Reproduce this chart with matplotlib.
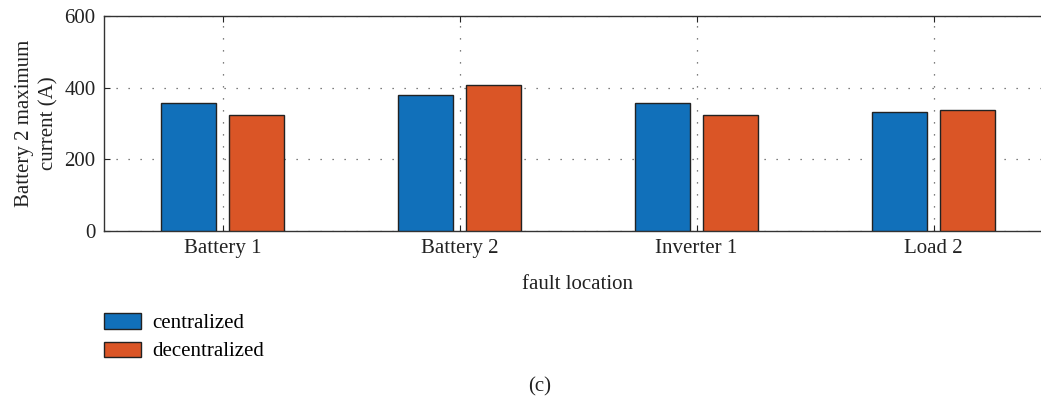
import matplotlib
matplotlib.use("Agg")
import matplotlib.pyplot as plt
import numpy as np

categories = ["Battery 1", "Battery 2", "Inverter 1", "Load 2"]
centralized = [357, 380, 357, 332]
decentralized = [324, 407, 324, 339]
series_names = ["centralized", "decentralized"]
y_ticks = [0, 200, 400, 600]

plt.rcParams["font.family"] = ["Liberation Serif", "DejaVu Serif"]
plt.rcParams["font.size"] = 15

fig = plt.figure(figsize=(10.41, 4.0), dpi=100)
ax = fig.add_axes([104 / 1041, 1 - 231 / 400, 948 / 1041, 215 / 400])

x = np.arange(1, len(categories) + 1)
width = 0.232
offset = 0.143
blue = "#1170BA"
orange = "#DA5526"
edge = "#222222"

b1 = ax.bar(x - offset, centralized, width, color=blue, edgecolor=edge,
            linewidth=1.0, zorder=3, label=series_names[0])
b2 = ax.bar(x + offset, decentralized, width, color=orange, edgecolor=edge,
            linewidth=1.0, zorder=3, label=series_names[1])

ax.set_xlim(0.5, 4.5)
ax.set_ylim(0, 600)
ax.set_xticks(x)
ax.set_xticklabels(categories)
ax.set_yticks(y_ticks)
ax.tick_params(direction="in", top=True, length=4, width=0.8,
               colors="#222222", labelsize=15, pad=6)
ax.grid(True, linestyle=(0, (1, 8.6)), color="#555555", linewidth=0.9, zorder=0)
for s in ax.spines.values():
    s.set_color("#333333")
    s.set_linewidth(1.0)

ax.set_xlabel("fault location", fontsize=15, color="#222222", labelpad=12)
ax.set_ylabel("Battery 2 maximum\ncurrent (A)", fontsize=15, color="#222222",
              linespacing=1.4, labelpad=4)

fig.legend(handles=[b1, b2], labels=series_names, loc="upper left",
           bbox_to_anchor=(96 / 1041, 1 - 305 / 400), frameon=False,
           fontsize=15, handlelength=1.75, handleheight=0.75,
           handletextpad=0.55, labelspacing=0.4, borderaxespad=0)

fig.text(540 / 1041, 1 - 387 / 400, "(c)", ha="center", va="center",
         fontsize=15, color="#222222")

fig.savefig("out.png", dpi=100)
